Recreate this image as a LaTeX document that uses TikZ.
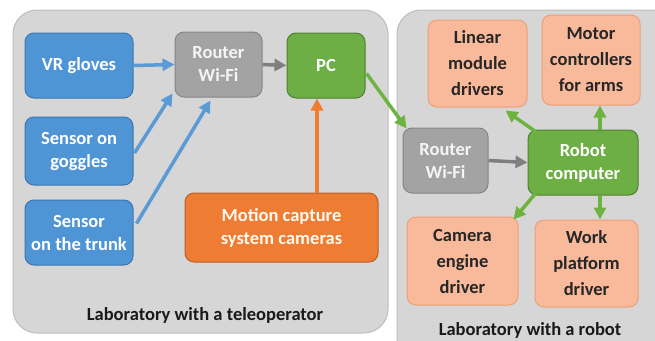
\documentclass[tikz,border=0pt]{standalone}
\usepackage{fontspec}
\setmainfont{Carlito}
\usetikzlibrary{arrows.meta,calc}
\definecolor{panelfill}{HTML}{D6D6D6}
\definecolor{paneldraw}{HTML}{BEBEBE}
\definecolor{bluefill}{HTML}{4F95D6}
\definecolor{bluedraw}{HTML}{3B76AE}
\definecolor{bluearrow}{HTML}{5B9BD5}
\definecolor{grayfill}{HTML}{A3A3A3}
\definecolor{graydraw}{HTML}{858585}
\definecolor{grayarrow}{HTML}{7F7F7F}
\definecolor{greenfill}{HTML}{6DAE45}
\definecolor{greendraw}{HTML}{4F8132}
\definecolor{greenarrow}{HTML}{6DB33F}
\definecolor{orangefill}{HTML}{EE7C32}
\definecolor{orangedraw}{HTML}{B8612A}
\definecolor{orangearrow}{HTML}{F07C2E}
\definecolor{salmonfill}{HTML}{F9BA9B}
\definecolor{salmondraw}{HTML}{EE9E78}
\tikzset{
  panel/.style={fill=panelfill,draw=paneldraw,line width=1pt,rounded corners=24pt},
  box/.style={rectangle,rounded corners=9pt,line width=1pt,align=center,
    font=\fontsize{18.5}{23}\selectfont\bfseries,inner sep=2pt},
  bluebox/.style={box,fill=bluefill,draw=bluedraw,text=white},
  graybox/.style={box,fill=grayfill,draw=graydraw,text=white!92!gray},
  greenbox/.style={box,fill=greenfill,draw=greendraw,text=white},
  orangebox/.style={box,fill=orangefill,draw=orangedraw,text=white!95!orange},
  salmonbox/.style={box,fill=salmonfill,draw=salmondraw,text=black!85,
    font=\fontsize{18.5}{26}\selectfont\bfseries},
  conn/.style={line width=3.5pt,-{Triangle[length=12pt,width=12pt]}},
  lbl/.style={font=\fontsize{18.5}{23}\selectfont\bfseries,text=black!90}
}
\begin{document}
\begin{tikzpicture}[x=1pt,y=-1pt]
\useasboundingbox (0,0) rectangle (655,340);
\begin{scope}
\clip (0,0) rectangle (655,340);
\draw[panel] (13,10) rectangle (388,333);
\draw[panel] (397,10) rectangle (680,365);
\end{scope}
% left nodes
\node[bluebox,minimum width=108,minimum height=65] (vr) at (79,65.5) {VR gloves};
\node[bluebox,minimum width=108,minimum height=68] (gog) at (79,151) {Sensor on\\goggles};
\node[bluebox,minimum width=108,minimum height=65] (trk) at (79,232.5) {Sensor\\on the trunk};
\node[graybox,minimum width=87,minimum height=65] (rl) at (218.5,64.5) {Router\\Wi-Fi};
\node[greenbox,minimum width=78,minimum height=65] (pc) at (326,65.5) {PC};
\node[orangebox,minimum width=193,minimum height=69] (mc) at (281.5,227.5) {Motion capture\\system cameras};
\node[lbl] (lab1) at (205,315) {Laboratory with a teleoperator};
% right nodes
\node[salmonbox,minimum width=99,minimum height=87] (lin) at (477.5,63.5) {Linear\\module\\drivers};
\node[salmonbox,minimum width=98,minimum height=90] (mot) at (591,60) {Motor\\controllers\\for arms};
\node[graybox,minimum width=85,minimum height=65] (rr) at (445.5,160.5) {Router\\Wi-Fi};
\node[greenbox,minimum width=110,minimum height=65] (rc) at (583,162.5) {Robot\\computer};
\node[salmonbox,minimum width=111,minimum height=88] (cam) at (462.5,261) {Camera\\engine\\driver};
\node[salmonbox,minimum width=103,minimum height=87] (wrk) at (586.5,263.5) {Work\\platform\\driver};
\node[lbl] (lab2) at (530,330) {Laboratory with a robot};
% helper coordinates
\coordinate (oc) at ($(pc.south)+(-9,0)$);
\coordinate (gt) at ($(rc.north)+(17,0)$);
\coordinate (gb) at ($(rc.south)+(17,0)$);
% connectors
\draw[conn,bluearrow] (vr.east) -- (rl.west);
\draw[conn,bluearrow] ($(gog.east)+(1,2)$) -- ($(rl.south west)+(-2,-4)$);
\draw[conn,bluearrow] ($(trk.east)+(3,-9)$) -- ($(rl.south)+(-8,3)$);
\draw[conn,grayarrow] (rl.east) -- (pc.west);
\draw[conn,orangearrow] (oc |- mc.north) -- (oc);
\draw[conn,greenarrow] ($(pc.east)+(1,8)$) -- ($(rr.north west)+(4,1)$);
\draw[conn,grayarrow] (rr.east) -- (rc.west);
\draw[conn,greenarrow] ($(rc.north west)+(8,2)$) -- ($(lin.south east)+(-22,3)$);
\draw[conn,greenarrow] (gt) -- (gt |- mot.south);
\draw[conn,greenarrow] ($(rc.south west)+(8,-2)$) -- ($(cam.north east)+(-5,3)$);
\draw[conn,greenarrow] (gb) -- (gb |- wrk.north);
\end{tikzpicture}
\end{document}
